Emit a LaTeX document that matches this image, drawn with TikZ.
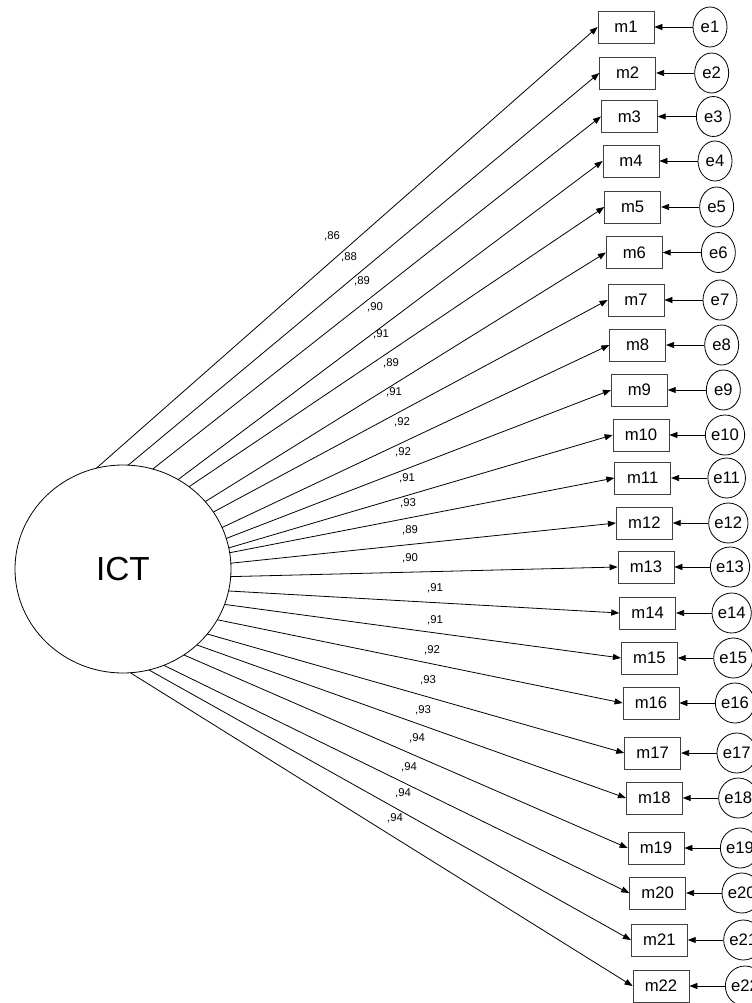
\documentclass[tikz,border=0pt]{standalone}
\usepackage{fontspec}
\setmainfont{Liberation Sans}
\usetikzlibrary{shapes.geometric,arrows.meta}
\begin{document}
\begin{tikzpicture}[x=0.75pt,y=-0.75pt,
  mbox/.style={draw=black!75,line width=0.6pt,rectangle,minimum width=42pt,minimum height=24pt,inner sep=0pt,font=\fontsize{12.5pt}{14pt}\selectfont},
  ebox/.style={draw=black,line width=0.6pt,ellipse,minimum width=25.5pt,minimum height=30pt,inner sep=0pt,font=\fontsize{12.5pt}{14pt}\selectfont},
  lat/.style={draw=black,line width=0.6pt,ellipse,minimum width=162pt,minimum height=156pt,inner sep=0pt,font=\fontsize{25pt}{28pt}\selectfont},
  arr/.style={line width=0.6pt,-{Triangle[length=6pt,width=4.5pt]}},
  lab/.style={inner sep=0pt,font=\fontsize{8.5pt}{10pt}\selectfont}]
\useasboundingbox[fill=white] (0,0) rectangle (752,1003);
\node[lat] (ICT) at (123,569) {ICT};
\foreach \i/\y/\a/\v/\lx/\ly in {
 1/27/104.3/86/332/236,
 2/73/87.2/88/349/257,
 3/116.5/74/89/362/281,
 4/161/59.3/90/375/307,
 5/207/52.3/91/381/334,
 6/252.5/40.4/89/391/363,
 7/300/33.2/91/394/392,
 8/345/23.5/92/402/422,
 9/390/17.1/92/403/452,
 10/435/11.7/91/407/478,
 11/478/9/93/408/503,
 12/523/3.2/89/410/530,
 13/567/-4.2/90/410/558,
 14/613/-12.2/91/435/588,
 15/658/-19.9/91/435/620,
 16/703/-29.2/92/432/650,
 17/753/-38.7/93/428/680,
 18/798/-46.9/93/423/710,
 19/848/-55.7/94/417/738,
 20/893/-67.8/94/409/767,
 21/940/-76.1/94/403/793,
 22/986/-86.1/94/395/818}{
  \node[mbox] (m\i) at ({626+1.667*(\i-1)},\y) {m\i};
  \node[ebox] (e\i) at ({710+1.667*(\i-1)},\y) {e\i};
  \coordinate (s\i) at ({123+108*cos(\a)},{569-104*sin(\a)});
  \draw[arr] (e\i.west) -- (m\i.east);
  \draw[arr] (s\i) -- (m\i.west);
  \node[lab] (l\i) at (\lx,\ly) {,\v};
}
\end{tikzpicture}
\end{document}
